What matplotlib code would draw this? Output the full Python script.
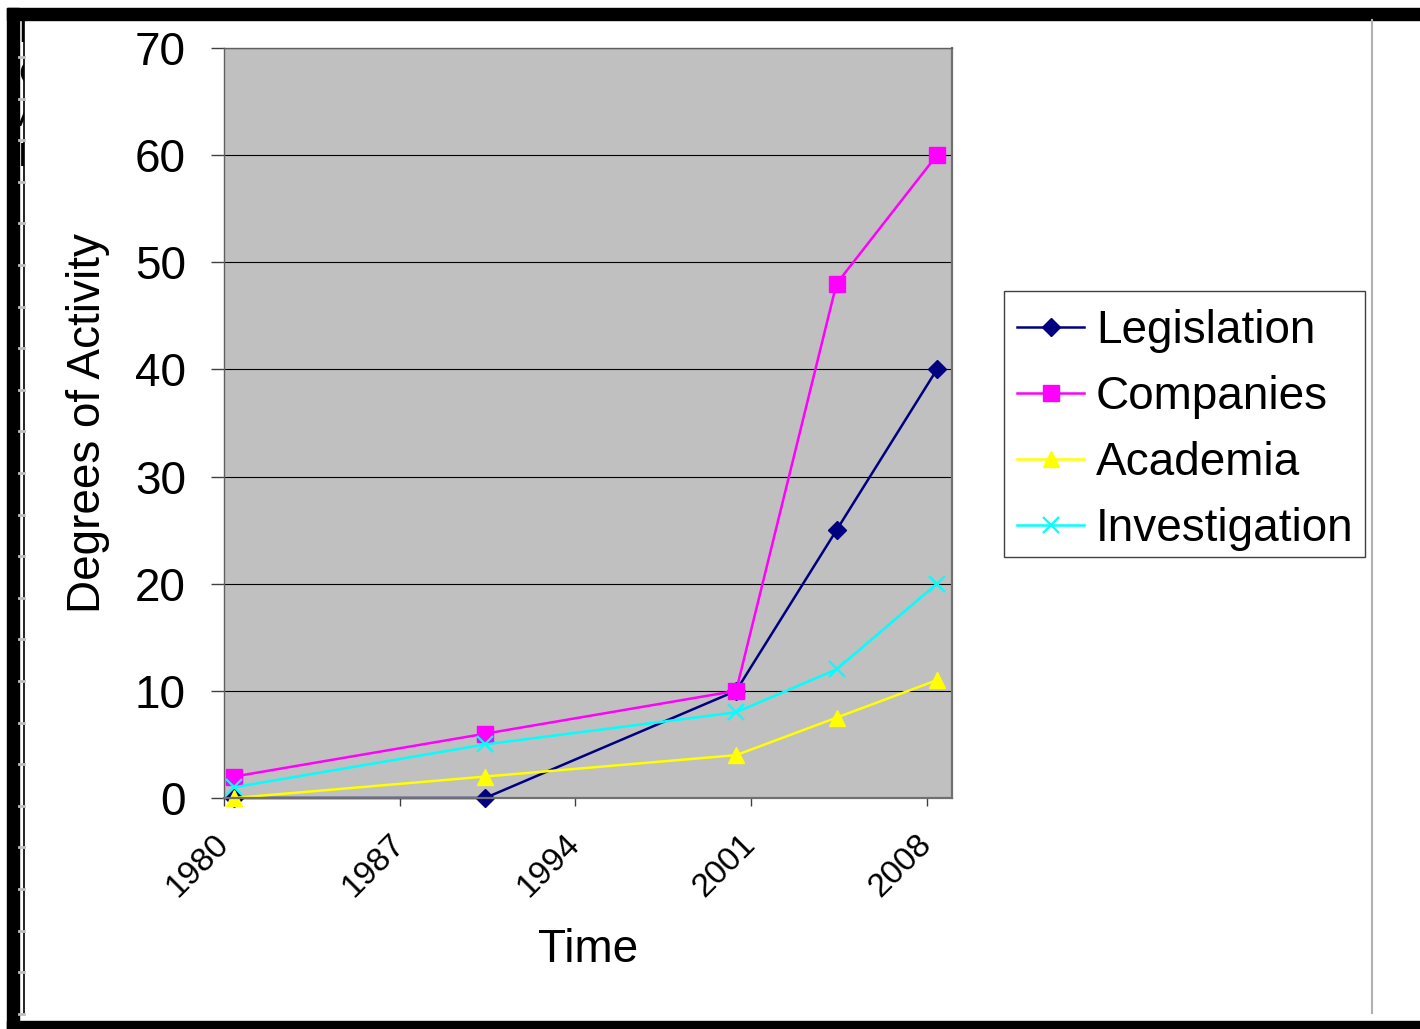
import numpy as np
import matplotlib
matplotlib.use("Agg")
import matplotlib.pyplot as plt
from matplotlib.patches import Rectangle

plt.rcParams["font.family"] = ["Liberation Sans", "DejaVu Sans"]

# data
years = [1980.4, 1990.4, 2000.4, 2004.4, 2008.4]
legislation = [0, 0, 10, 25, 40]
companies = [2, 6, 10, 48, 60]
academia = [0, 2, 4, 7.5, 11]
investigation = [1, 5, 8, 12, 20]

tick_years = [1980, 1987, 1994, 2001, 2008]
y_ticks = [0, 10, 20, 30, 40, 50, 60, 70]

W, H = 1420, 1029
fig = plt.figure(figsize=(W / 100, H / 100), dpi=100)
fig.patch.set_facecolor("white")

# page frame around the chart (spreadsheet screenshot look)
deco = fig.add_axes([0, 0, 1, 1], zorder=-1)
deco.set_xlim(0, W)
deco.set_ylim(H, 0)
deco.axis("off")
deco.add_patch(Rectangle((7, 8), W - 7, 12, color="black"))
deco.add_patch(Rectangle((7, 8), 12, H - 8, color="black"))
deco.add_patch(Rectangle((7, 1021), W - 7, 8, color="black"))
deco.plot([24, 24], [20, 1013], color="black", lw=1.2)
deco.plot([1372, 1372], [20, 1013], color="#b0b0b0", lw=1.5)
for yy in np.arange(57, 1015, 41.6):
    deco.plot([19, 24], [yy, yy], color="#c0c0c0", lw=2)
# legend box (drawn separately so the entries sit where they do in Excel)
deco.add_patch(Rectangle((1004, 291), 361, 266, facecolor="white",
                         edgecolor="#404040", lw=1.0))

# cut-off row letters at the very left
clip = fig.add_axes([19 / W, 0, 5 / W, 1], zorder=0)
clip.set_xlim(0, 5)
clip.set_ylim(H, 0)
clip.axis("off")
for ch, yy in zip(["L", "C", "A", "I"], [33, 75, 117, 158]):
    clip.text(-1.2, yy, ch, fontsize=24, ha="left", va="center", clip_on=True)

ax = fig.add_axes([224 / W, 1 - 798 / H, 728 / W, 750 / H])
ax.set_facecolor("#c0c0c0")

ax.plot(years, legislation, color="#000080", lw=1.8, marker="D", ms=9.5,
        label="Legislation", clip_on=False)
ax.plot(years, companies, color="#ff00ff", lw=1.8, marker="s", ms=11.5,
        label="Companies", clip_on=False)
ax.plot(years, academia, color="#ffff00", lw=1.8, marker="^", ms=12,
        label="Academia", clip_on=False)
ax.plot(years, investigation, color="#00ffff", lw=1.8, marker="x", ms=11.5,
        mew=1.6, label="Investigation", clip_on=False)

ax.set_xlim(1980, 2009)
ax.set_ylim(0, 70)
ax.set_xticks(tick_years)
ax.set_xticklabels([str(y) for y in tick_years], rotation=45, ha="right",
                   va="center", rotation_mode="anchor", fontsize=24)
ax.set_yticks(y_ticks)
ax.set_yticklabels([str(v) for v in y_ticks], fontsize=33)
ax.tick_params(axis="y", length=9.5, width=1, color="#404040", pad=18)
ax.tick_params(axis="x", length=6, width=1, color="#404040", pad=24)

ax.yaxis.grid(True, color="black", lw=0.8)
ax.set_axisbelow(True)
for side in ["left", "top"]:
    ax.spines[side].set_color("#606060")
    ax.spines[side].set_linewidth(1.0)
for side in ["right", "bottom"]:
    ax.spines[side].set_color("#707070")
    ax.spines[side].set_linewidth(1.6)

ax.set_xlabel("Time", fontsize=33, va="center")
ax.xaxis.set_label_coords(0.5, -0.203)
ax.set_ylabel("Degrees of Activity", fontsize=33, va="center")
ax.yaxis.set_label_coords(-0.187, 0.5)

leg = ax.legend(loc="upper left", bbox_to_anchor=(1006 / W, 1 - 298 / H),
                bbox_transform=fig.transFigure, borderaxespad=0, fontsize=33,
                handlelength=1.45, handletextpad=0.26, borderpad=0.25,
                labelspacing=0.48, frameon=False)

fig.savefig("out.png", dpi=100)
